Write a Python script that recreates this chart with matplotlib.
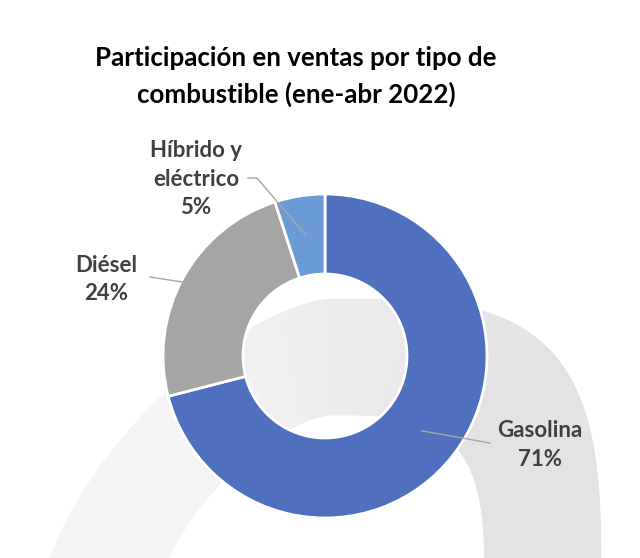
import numpy as np
import matplotlib
matplotlib.use('Agg')
import matplotlib.pyplot as plt

# data
categories = ['Gasolina', 'Diésel', 'Híbrido y\neléctrico']
shares = [71, 24, 5]
colors = ['#4e70be', '#a5a5a5', '#6b9bd4']
title_lines = ['Participación en ventas por tipo de', 'combustible (ene-abr 2022)']

W, H = 640, 558
fig = plt.figure(figsize=(W / 100, H / 100), dpi=100)
ax = fig.add_axes([0, 0, 1, 1])

def Y(y):
    # picture coords (top-down) -> axes coords (bottom-up)
    return H - y

# faint arch watermark behind the chart
cx, cy = 330, 600
b, w = 243, 58
def arch(phi, grow):
    c, s = np.cos(phi), np.sin(phi)
    a, n = (213, 3.5) if c >= 0 else (232, 1.5)
    x = cx + np.sign(c) * (a + grow) * abs(c) ** (2 / n)
    y = cy - (b + grow) * abs(s) ** (2 / n)
    return x, Y(y)

phis = np.linspace(0, np.pi, 240)
c_dark = np.array([0.890, 0.890, 0.898])
c_light = np.array([0.957, 0.957, 0.961])
for i in range(len(phis) - 1):
    p0, p1 = phis[i], phis[i + 1]
    o0, o1 = arch(p0, w), arch(p1, w)
    i0, i1 = arch(p0, -w), arch(p1, -w)
    f = min(1, max(0, (p0 - 0.9) / 1.4))
    col = c_dark * (1 - f) + c_light * f
    ax.fill([o0[0], o1[0], i1[0], i0[0]], [o0[1], o1[1], i1[1], i0[1]],
            color=col, lw=0.6, ec=col, zorder=0)

# donut
center = (325, Y(356))
R = 162
wedges, _ = ax.pie(shares, radius=R, center=center, startangle=90,
                   counterclock=False, colors=colors,
                   wedgeprops=dict(width=80, edgecolor='white', linewidth=2))
for wd in wedges:
    wd.set_zorder(2)

# labels with leader lines
lab_font = dict(family='Lato', weight='bold', size=16, color='#404040',
                ha='center', va='baseline')
label_x = [540, 106, 196]
label_base = [437, 272, 157]
line_gap = 28.5
line_r = [122, 150, 122]
line_end = [(490, 443), (150, 277), (248, 178)]
start = 90
for k, (cat, val) in enumerate(zip(categories, shares)):
    mid = np.deg2rad(start - val * 3.6 / 2)
    start -= val * 3.6
    px = center[0] + line_r[k] * np.cos(mid)
    py = center[1] + line_r[k] * np.sin(mid)
    ex, ey = line_end[k]
    if k == 2:
        ax.plot([px, ex + 9, ex], [py, Y(ey), Y(ey)], color='#a6a6a6', lw=1, zorder=3)
    else:
        ax.plot([px, ex], [py, Y(ey)], color='#a6a6a6', lw=1, zorder=3)
    lines = cat.split('\n') + [f'{val}%']
    for j, txt in enumerate(lines):
        ax.text(label_x[k], Y(label_base[k] + j * line_gap), txt, zorder=4, **lab_font)

for j, txt in enumerate(title_lines):
    ax.text(296, Y(66 + j * 37), txt, family='Lato', weight='bold', size=18.6,
            color='black', ha='center', va='baseline')

ax.set_xlim(0, W)
ax.set_ylim(0, H)
ax.set_aspect('equal')
ax.axis('off')
fig.savefig('out.png', dpi=100, facecolor='white')
